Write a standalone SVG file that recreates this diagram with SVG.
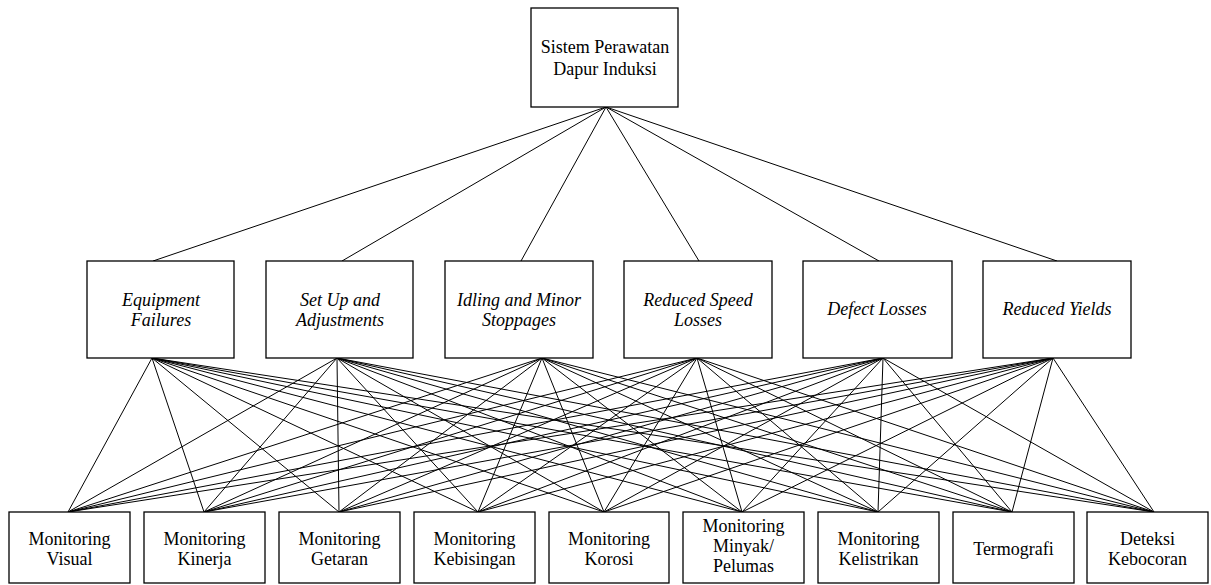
<svg xmlns="http://www.w3.org/2000/svg" width="1211" height="585" viewBox="0 0 1211 585">
  <style>
    .box { fill: #ffffff; stroke: #000000; stroke-width: 1.3; }
    .links line { stroke: #000000; stroke-width: 1; }
  </style>

  <!-- connectors -->
  <g id="connectors" class="links">
    <!-- root to criteria -->
    <line x1="606" y1="107" x2="153" y2="261"/>
    <line x1="606" y1="107" x2="342" y2="261"/>
    <line x1="606" y1="107" x2="521" y2="261"/>
    <line x1="606" y1="107" x2="699" y2="261"/>
    <line x1="606" y1="107" x2="879" y2="261"/>
    <line x1="606" y1="107" x2="1057" y2="261"/>
    <!-- Equipment Failures to alternatives -->
    <line x1="152" y1="358" x2="68" y2="512"/>
    <line x1="152" y1="358" x2="204" y2="512"/>
    <line x1="152" y1="358" x2="339" y2="512"/>
    <line x1="152" y1="358" x2="478" y2="512"/>
    <line x1="152" y1="358" x2="604" y2="512"/>
    <line x1="152" y1="358" x2="742" y2="512"/>
    <line x1="152" y1="358" x2="878" y2="512"/>
    <line x1="152" y1="358" x2="1012" y2="512"/>
    <line x1="152" y1="358" x2="1154" y2="512"/>
    <!-- Set Up and Adjustments -->
    <line x1="337" y1="358" x2="68" y2="512"/>
    <line x1="337" y1="358" x2="204" y2="512"/>
    <line x1="337" y1="358" x2="339" y2="512"/>
    <line x1="337" y1="358" x2="478" y2="512"/>
    <line x1="337" y1="358" x2="604" y2="512"/>
    <line x1="337" y1="358" x2="742" y2="512"/>
    <line x1="337" y1="358" x2="878" y2="512"/>
    <line x1="337" y1="358" x2="1012" y2="512"/>
    <line x1="337" y1="358" x2="1154" y2="512"/>
    <!-- Idling and Minor Stoppages -->
    <line x1="542" y1="358" x2="68" y2="512"/>
    <line x1="542" y1="358" x2="204" y2="512"/>
    <line x1="542" y1="358" x2="339" y2="512"/>
    <line x1="542" y1="358" x2="478" y2="512"/>
    <line x1="542" y1="358" x2="604" y2="512"/>
    <line x1="542" y1="358" x2="742" y2="512"/>
    <line x1="542" y1="358" x2="878" y2="512"/>
    <line x1="542" y1="358" x2="1012" y2="512"/>
    <line x1="542" y1="358" x2="1154" y2="512"/>
    <!-- Reduced Speed Losses -->
    <line x1="697" y1="358" x2="68" y2="512"/>
    <line x1="697" y1="358" x2="204" y2="512"/>
    <line x1="697" y1="358" x2="339" y2="512"/>
    <line x1="697" y1="358" x2="478" y2="512"/>
    <line x1="697" y1="358" x2="604" y2="512"/>
    <line x1="697" y1="358" x2="742" y2="512"/>
    <line x1="697" y1="358" x2="878" y2="512"/>
    <line x1="697" y1="358" x2="1012" y2="512"/>
    <line x1="697" y1="358" x2="1154" y2="512"/>
    <!-- Defect Losses -->
    <line x1="883" y1="358" x2="68" y2="512"/>
    <line x1="883" y1="358" x2="204" y2="512"/>
    <line x1="883" y1="358" x2="339" y2="512"/>
    <line x1="883" y1="358" x2="478" y2="512"/>
    <line x1="883" y1="358" x2="604" y2="512"/>
    <line x1="883" y1="358" x2="742" y2="512"/>
    <line x1="883" y1="358" x2="878" y2="512"/>
    <line x1="883" y1="358" x2="1012" y2="512"/>
    <line x1="883" y1="358" x2="1154" y2="512"/>
    <!-- Reduced Yields -->
    <line x1="1053" y1="358" x2="68" y2="512"/>
    <line x1="1053" y1="358" x2="204" y2="512"/>
    <line x1="1053" y1="358" x2="339" y2="512"/>
    <line x1="1053" y1="358" x2="478" y2="512"/>
    <line x1="1053" y1="358" x2="604" y2="512"/>
    <line x1="1053" y1="358" x2="742" y2="512"/>
    <line x1="1053" y1="358" x2="878" y2="512"/>
    <line x1="1053" y1="358" x2="1012" y2="512"/>
    <line x1="1053" y1="358" x2="1154" y2="512"/>
  </g>

  <!-- all labels share one serif face -->
  <g font-family="Liberation Serif, Times New Roman, serif" font-size="18" fill="#000000" text-anchor="middle">

    <!-- goal -->
    <g id="goal">
      <rect class="box" x="531" y="8" width="147" height="99"/>
      <text x="605" y="53">Sistem Perawatan</text>
      <text x="605" y="75">Dapur Induksi</text>
    </g>

    <!-- criteria (italic) -->
    <g font-style="italic">
      <g id="equipment-failures">
        <rect class="box" x="87" y="261" width="147" height="97"/>
        <text x="161" y="306">Equipment</text>
        <text x="161" y="326">Failures</text>
      </g>
      <g id="setup-adjustments">
        <rect class="box" x="266" y="261" width="147" height="97"/>
        <text x="340" y="306">Set Up and</text>
        <text x="340" y="326">Adjustments</text>
      </g>
      <g id="idling-minor-stoppages">
        <rect class="box" x="445" y="261" width="148" height="97"/>
        <text x="519" y="306">Idling and Minor</text>
        <text x="519" y="326">Stoppages</text>
      </g>
      <g id="reduced-speed-losses">
        <rect class="box" x="624" y="261" width="148" height="97"/>
        <text x="698" y="306">Reduced Speed</text>
        <text x="698" y="326">Losses</text>
      </g>
      <g id="defect-losses">
        <rect class="box" x="803" y="261" width="149" height="97"/>
        <text x="877" y="315">Defect Losses</text>
      </g>
      <g id="reduced-yields">
        <rect class="box" x="983" y="261" width="148" height="97"/>
        <text x="1057" y="315">Reduced Yields</text>
      </g>
    </g>

    <!-- alternatives -->
    <g id="monitoring-visual">
      <rect class="box" x="9" y="512" width="121" height="71"/>
      <text x="69.5" y="545">Monitoring</text>
      <text x="69.5" y="565">Visual</text>
    </g>
    <g id="monitoring-kinerja">
      <rect class="box" x="144" y="512" width="121" height="71"/>
      <text x="204.5" y="545">Monitoring</text>
      <text x="204.5" y="565">Kinerja</text>
    </g>
    <g id="monitoring-getaran">
      <rect class="box" x="279" y="512" width="121" height="71"/>
      <text x="339.5" y="545">Monitoring</text>
      <text x="339.5" y="565">Getaran</text>
    </g>
    <g id="monitoring-kebisingan">
      <rect class="box" x="414" y="512" width="121" height="71"/>
      <text x="474.5" y="545">Monitoring</text>
      <text x="474.5" y="565">Kebisingan</text>
    </g>
    <g id="monitoring-korosi">
      <rect class="box" x="549" y="512" width="120" height="71"/>
      <text x="609" y="545">Monitoring</text>
      <text x="609" y="565">Korosi</text>
    </g>
    <g id="monitoring-minyak-pelumas">
      <rect class="box" x="683" y="512" width="121" height="71"/>
      <text x="743.5" y="532">Monitoring</text>
      <text x="743.5" y="552">Minyak/</text>
      <text x="743.5" y="572">Pelumas</text>
    </g>
    <g id="monitoring-kelistrikan">
      <rect class="box" x="818" y="512" width="121" height="71"/>
      <text x="878.5" y="545">Monitoring</text>
      <text x="878.5" y="565">Kelistrikan</text>
    </g>
    <g id="termografi">
      <rect class="box" x="953" y="512" width="121" height="71"/>
      <text x="1013.5" y="555">Termografi</text>
    </g>
    <g id="deteksi-kebocoran">
      <rect class="box" x="1087" y="512" width="121" height="71"/>
      <text x="1147.5" y="545">Deteksi</text>
      <text x="1147.5" y="565">Kebocoran</text>
    </g>
  </g>
</svg>
